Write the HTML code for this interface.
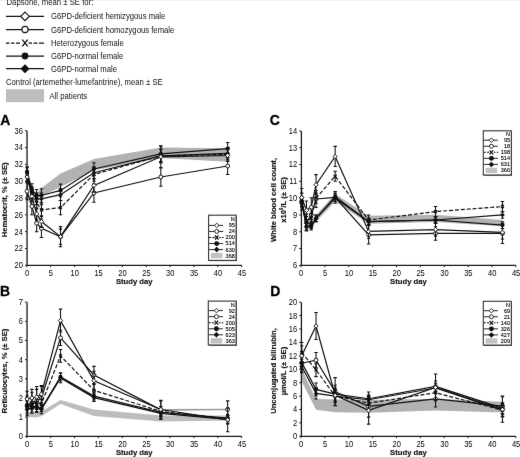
<!DOCTYPE html>
<html lang="en"><head><meta charset="utf-8"><title>Dapsone hematologic outcomes</title>
<style>html,body{margin:0;padding:0;background:#fff}body{width:520px;height:457px;overflow:hidden}svg{display:block}</style>
</head><body>
<svg width="520" height="457" viewBox="0 0 520 457" font-family='"Liberation Sans", sans-serif' fill="#111">
<defs><filter id="soft" x="0" y="0" width="100%" height="100%" filterUnits="objectBoundingBox" color-interpolation-filters="sRGB"><feConvolveMatrix order="3" kernelMatrix="0.0028 0.0470 0.0028 0.0470 0.8008 0.0470 0.0028 0.0470 0.0028" edgeMode="duplicate" preserveAlpha="true"/></filter></defs>
<g filter="url(#soft)">
<rect width="520" height="457" fill="#fff"/>
<g font-size="8.3">
<text transform="translate(6.5 5.3) scale(0.935 1)">Dapsone, mean ± SE for:</text>
<path d="M6 16.4H44" stroke="#111" stroke-width="1.25"/>
<path d="M20.72 16.4L25 12.12L29.28 16.4L25 20.68Z" fill="#fff" stroke="#111" stroke-width="1.15"/>
<text transform="translate(51 19.4) scale(0.93 1)">G6PD-deficient hemizygous male</text>
<path d="M6 29.5H44" stroke="#111" stroke-width="1.25"/>
<circle cx="25" cy="29.5" r="3.1" fill="#fff" stroke="#111" stroke-width="1.15"/>
<text transform="translate(51 32.5) scale(0.93 1)">G6PD-deficient homozygous female</text>
<path d="M6 43h3.5m1.5 0h3.5m1.5 0h4M28.5 43h3.5m1.5 0h4m1.5 0h5" stroke="#111" stroke-width="1.25"/>
<path d="M22.3 39.7L27.7 46.3M22.3 46.3L27.7 39.7" stroke="#111" stroke-width="1.3" fill="none"/>
<text transform="translate(51 46) scale(0.93 1)">Heterozygous female</text>
<path d="M6 56H44" stroke="#111" stroke-width="1.25"/>
<circle cx="25" cy="56" r="3.4" fill="#111"/>
<text transform="translate(51 59) scale(0.93 1)">G6PD-normal female</text>
<path d="M6 68.7H44" stroke="#111" stroke-width="1.25"/>
<path d="M20.5 68.7L25 64.2L29.5 68.7L25 73.2Z" fill="#111"/>
<text transform="translate(51 71.7) scale(0.93 1)">G6PD-normal male</text>
<text transform="translate(6 85.4) scale(0.93 1)">Control (artemether-lumefantrine), mean ± SE</text>
<rect x="6" y="89.2" width="38" height="13" fill="#bdbdbd"/>
<text transform="translate(49.5 98.6) scale(0.93 1)">All patients</text>
</g>
<g id="chartA">
<text transform="translate(0.3 125.3) scale(0.93 1)" font-size="15" font-weight="bold" fill="#000" stroke="#000" stroke-width="0.3">A</text>
<polygon points="27.1,169.4 31.88,187.91 36.65,193.79 41.43,187.91 60.53,173.6 93.95,158.88 160.8,147.52 227.65,148.37 227.65,161.83 160.8,158.04 93.95,170.24 60.53,187.06 41.43,196.32 36.65,198 31.88,193.79 27.1,178.65" fill="#b2b2b2"/>
<path d="M27.05 130.7V265.3H241.68" fill="none" stroke="#1a1a1a" stroke-width="1.3"/>
<path d="M25 265.3H26.8M25 248.48H26.8M25 231.65H26.8M25 214.82H26.8M25 198H26.8M25 181.18H26.8M25 164.35H26.8M25 147.52H26.8M25 130.7H26.8M26.8 265.3V267.1M50.67 265.3V267.1M74.55 265.3V267.1M98.42 265.3V267.1M122.3 265.3V267.1M146.18 265.3V267.1M170.05 265.3V267.1M193.93 265.3V267.1M217.8 265.3V267.1M241.68 265.3V267.1" stroke="#1a1a1a" stroke-width="1" fill="none"/>
<g font-size="8.2" fill="#000">
<text transform="translate(22.9 268.2) scale(0.92 1)" text-anchor="end">20</text>
<text transform="translate(22.9 251.38) scale(0.92 1)" text-anchor="end">22</text>
<text transform="translate(22.9 234.55) scale(0.92 1)" text-anchor="end">24</text>
<text transform="translate(22.9 217.72) scale(0.92 1)" text-anchor="end">26</text>
<text transform="translate(22.9 200.9) scale(0.92 1)" text-anchor="end">28</text>
<text transform="translate(22.9 184.08) scale(0.92 1)" text-anchor="end">30</text>
<text transform="translate(22.9 167.25) scale(0.92 1)" text-anchor="end">32</text>
<text transform="translate(22.9 150.42) scale(0.92 1)" text-anchor="end">34</text>
<text transform="translate(22.9 133.6) scale(0.92 1)" text-anchor="end">36</text>
<text transform="translate(27 275.6) scale(0.92 1)" text-anchor="middle">0</text>
<text transform="translate(50.88 275.6) scale(0.92 1)" text-anchor="middle">5</text>
<text transform="translate(74.75 275.6) scale(0.92 1)" text-anchor="middle">10</text>
<text transform="translate(98.62 275.6) scale(0.92 1)" text-anchor="middle">15</text>
<text transform="translate(122.5 275.6) scale(0.92 1)" text-anchor="middle">20</text>
<text transform="translate(146.38 275.6) scale(0.92 1)" text-anchor="middle">25</text>
<text transform="translate(170.25 275.6) scale(0.92 1)" text-anchor="middle">30</text>
<text transform="translate(194.12 275.6) scale(0.92 1)" text-anchor="middle">35</text>
<text transform="translate(218 275.6) scale(0.92 1)" text-anchor="middle">40</text>
<text transform="translate(241.88 275.6) scale(0.92 1)" text-anchor="middle">45</text>
</g>
<text transform="translate(134.24 283.6) scale(0.96 1)" text-anchor="middle" font-size="8" font-weight="bold" stroke="#111" stroke-width="0.15">Study day</text>
<text transform="translate(7.2 199.8) rotate(-90) scale(0.96 1)" text-anchor="middle" font-size="8" font-weight="bold" stroke="#111" stroke-width="0.15">Hematocrit, % (± SE)</text>
<polyline points="27.1,191.27 31.88,206.41 36.65,223.24 41.43,228.29 60.53,236.7 93.95,192.95 160.8,176.97 227.65,166.03" fill="none" stroke="#111" stroke-width="1.2"/>
<path d="M27.1 182.86V199.68M25.4 182.86h3.4M25.4 199.68h3.4M31.88 198V214.82M30.18 198h3.4M30.18 214.82h3.4M36.65 214.82V231.65M34.95 214.82h3.4M34.95 231.65h3.4M41.43 219.03V237.54M39.73 219.03h3.4M39.73 237.54h3.4M60.53 226.6V246.79M58.83 226.6h3.4M58.83 246.79h3.4M93.95 183.7V202.21M92.25 183.7h3.4M92.25 202.21h3.4M160.8 167.71V186.22M159.1 167.71h3.4M159.1 186.22h3.4M227.65 157.62V174.44M225.95 157.62h3.4M225.95 174.44h3.4" stroke="#111" stroke-width="1.05" fill="none"/>
<circle cx="27.1" cy="191.27" r="1.95" fill="#fff" stroke="#111" stroke-width="0.95"/>
<circle cx="31.88" cy="206.41" r="1.95" fill="#fff" stroke="#111" stroke-width="0.95"/>
<circle cx="36.65" cy="223.24" r="1.95" fill="#fff" stroke="#111" stroke-width="0.95"/>
<circle cx="41.43" cy="228.29" r="1.95" fill="#fff" stroke="#111" stroke-width="0.95"/>
<circle cx="60.53" cy="236.7" r="1.95" fill="#fff" stroke="#111" stroke-width="0.95"/>
<circle cx="93.95" cy="192.95" r="1.95" fill="#fff" stroke="#111" stroke-width="0.95"/>
<circle cx="160.8" cy="176.97" r="1.95" fill="#fff" stroke="#111" stroke-width="0.95"/>
<circle cx="227.65" cy="166.03" r="1.95" fill="#fff" stroke="#111" stroke-width="0.95"/>
<polyline points="27.1,176.13 31.88,192.95 36.65,203.05 41.43,209.78 60.53,207.67 93.95,174.44 160.8,155.94 227.65,154.25" fill="none" stroke="#111" stroke-width="1.2" stroke-dasharray="4 1.9"/>
<path d="M27.1 171.08V181.18M25.4 171.08h3.4M25.4 181.18h3.4M31.88 187.06V198.84M30.18 187.06h3.4M30.18 198.84h3.4M36.65 197.16V208.94M34.95 197.16h3.4M34.95 208.94h3.4M41.43 203.05V216.51M39.73 203.05h3.4M39.73 216.51h3.4M60.53 200.52V214.82M58.83 200.52h3.4M58.83 214.82h3.4M93.95 167.71V181.18M92.25 167.71h3.4M92.25 181.18h3.4M160.8 149.21V162.67M159.1 149.21h3.4M159.1 162.67h3.4M227.65 147.52V160.98M225.95 147.52h3.4M225.95 160.98h3.4" stroke="#111" stroke-width="1.05" fill="none"/>
<path d="M25.57 174.6L28.63 177.66M25.57 177.66L28.63 174.6" fill="none" stroke="#111" stroke-width="1.15"/>
<path d="M30.34 191.42L33.41 194.48M30.34 194.48L33.41 191.42" fill="none" stroke="#111" stroke-width="1.15"/>
<path d="M35.12 201.52L38.18 204.58M35.12 204.58L38.18 201.52" fill="none" stroke="#111" stroke-width="1.15"/>
<path d="M39.9 208.25L42.96 211.31M39.9 211.31L42.96 208.25" fill="none" stroke="#111" stroke-width="1.15"/>
<path d="M59 206.14L62.06 209.2M59 209.2L62.06 206.14" fill="none" stroke="#111" stroke-width="1.15"/>
<path d="M92.42 172.91L95.48 175.97M92.42 175.97L95.48 172.91" fill="none" stroke="#111" stroke-width="1.15"/>
<path d="M159.27 154.41L162.33 157.47M159.27 157.47L162.33 154.41" fill="none" stroke="#111" stroke-width="1.15"/>
<path d="M226.12 152.72L229.18 155.78M226.12 155.78L229.18 152.72" fill="none" stroke="#111" stroke-width="1.15"/>
<polyline points="27.1,171.92 31.88,189.59 36.65,195.48 41.43,195.48 60.53,190.43 93.95,168.98 160.8,153.83 227.65,148.53" fill="none" stroke="#111" stroke-width="1.2"/>
<path d="M27.1 166.87V176.97M25.4 166.87h3.4M25.4 176.97h3.4M31.88 183.7V195.48M30.18 183.7h3.4M30.18 195.48h3.4M36.65 189.59V201.36M34.95 189.59h3.4M34.95 201.36h3.4M41.43 188.75V202.21M39.73 188.75h3.4M39.73 202.21h3.4M60.53 184.12V196.74M58.83 184.12h3.4M58.83 196.74h3.4M93.95 162.67V175.29M92.25 162.67h3.4M92.25 175.29h3.4M160.8 146.26V161.41M159.1 146.26h3.4M159.1 161.41h3.4M227.65 142.48V154.59M225.95 142.48h3.4M225.95 154.59h3.4" stroke="#111" stroke-width="1.05" fill="none"/>
<circle cx="27.1" cy="171.92" r="2.1" fill="#111"/>
<circle cx="31.88" cy="189.59" r="2.1" fill="#111"/>
<circle cx="36.65" cy="195.48" r="2.1" fill="#111"/>
<circle cx="41.43" cy="195.48" r="2.1" fill="#111"/>
<circle cx="60.53" cy="190.43" r="2.1" fill="#111"/>
<circle cx="93.95" cy="168.98" r="2.1" fill="#111"/>
<circle cx="160.8" cy="153.83" r="2.1" fill="#111"/>
<circle cx="227.65" cy="148.53" r="2.1" fill="#111"/>
<polyline points="27.1,172.76 31.88,192.95 36.65,198.84 41.43,198.84 60.53,194.63 93.95,172.76 160.8,155.94 227.65,153.41" fill="none" stroke="#111" stroke-width="1.2"/>
<path d="M27.1 167.71V177.81M25.4 167.71h3.4M25.4 177.81h3.4M31.88 187.06V198.84M30.18 187.06h3.4M30.18 198.84h3.4M36.65 192.95V204.73M34.95 192.95h3.4M34.95 204.73h3.4M41.43 192.95V204.73M39.73 192.95h3.4M39.73 204.73h3.4M60.53 188.75V200.52M58.83 188.75h3.4M58.83 200.52h3.4M93.95 166.87V178.65M92.25 166.87h3.4M92.25 178.65h3.4M160.8 149.21V162.67M159.1 149.21h3.4M159.1 162.67h3.4M227.65 147.52V159.3M225.95 147.52h3.4M225.95 159.3h3.4" stroke="#111" stroke-width="1.05" fill="none"/>
<path d="M24.76 172.76L27.1 170.42L29.44 172.76L27.1 175.1Z" fill="#111"/>
<path d="M29.54 192.95L31.88 190.61L34.22 192.95L31.88 195.29Z" fill="#111"/>
<path d="M34.31 198.84L36.65 196.5L38.99 198.84L36.65 201.18Z" fill="#111"/>
<path d="M39.09 198.84L41.43 196.5L43.77 198.84L41.43 201.18Z" fill="#111"/>
<path d="M58.19 194.63L60.53 192.29L62.87 194.63L60.53 196.97Z" fill="#111"/>
<path d="M91.61 172.76L93.95 170.42L96.29 172.76L93.95 175.1Z" fill="#111"/>
<path d="M158.46 155.94L160.8 153.6L163.14 155.94L160.8 158.28Z" fill="#111"/>
<path d="M225.31 153.41L227.65 151.07L229.99 153.41L227.65 155.75Z" fill="#111"/>
<polyline points="27.1,176.97 31.88,196.32 36.65,213.98 41.43,221.56 60.53,236.7 93.95,185.38 160.8,156.78 227.65,155.52" fill="none" stroke="#111" stroke-width="1.2"/>
<path d="M27.1 172.76V181.18M25.4 172.76h3.4M25.4 181.18h3.4M31.88 191.27V201.37M30.18 191.27h3.4M30.18 201.37h3.4M36.65 208.09V219.87M34.95 208.09h3.4M34.95 219.87h3.4M41.43 215.67V227.44M39.73 215.67h3.4M39.73 227.44h3.4M60.53 229.13V244.27M58.83 229.13h3.4M58.83 244.27h3.4M93.95 178.65V192.11M92.25 178.65h3.4M92.25 192.11h3.4M160.8 145.84V167.72M159.1 145.84h3.4M159.1 167.72h3.4M227.65 149.63V161.41M225.95 149.63h3.4M225.95 161.41h3.4" stroke="#111" stroke-width="1.05" fill="none"/>
<path d="M24.92 176.97L27.1 174.78L29.28 176.97L27.1 179.15Z" fill="#fff" stroke="#111" stroke-width="0.95"/>
<path d="M29.69 196.32L31.88 194.13L34.06 196.32L31.88 198.5Z" fill="#fff" stroke="#111" stroke-width="0.95"/>
<path d="M34.47 213.98L36.65 211.8L38.83 213.98L36.65 216.17Z" fill="#fff" stroke="#111" stroke-width="0.95"/>
<path d="M39.24 221.56L41.43 219.37L43.61 221.56L41.43 223.74Z" fill="#fff" stroke="#111" stroke-width="0.95"/>
<path d="M58.34 236.7L60.53 234.51L62.71 236.7L60.53 238.88Z" fill="#fff" stroke="#111" stroke-width="0.95"/>
<path d="M91.77 185.38L93.95 183.2L96.13 185.38L93.95 187.57Z" fill="#fff" stroke="#111" stroke-width="0.95"/>
<path d="M158.62 156.78L160.8 154.59L162.98 156.78L160.8 158.96Z" fill="#fff" stroke="#111" stroke-width="0.95"/>
<path d="M225.47 155.52L227.65 153.33L229.83 155.52L227.65 157.7Z" fill="#fff" stroke="#111" stroke-width="0.95"/>
<rect x="209.3" y="215.9" width="27.5" height="45.2" fill="#444"/>
<rect x="208.6" y="215.2" width="27.5" height="45.2" fill="#fff" stroke="#333" stroke-width="1.1"/>
<g font-size="5.5" fill="#000" stroke="#000" stroke-width="0.12">
<text x="234.8" y="221.3" text-anchor="end">N</text>
<path d="M209.1 225.4H223.2" stroke="#111" stroke-width="0.9"/>
<path d="M214.46 225.4L216.7 223.16L218.94 225.4L216.7 227.64Z" fill="#fff" stroke="#111" stroke-width="0.9"/>
<text x="234.8" y="227.3" text-anchor="end">95</text>
<path d="M209.1 231.45H223.2" stroke="#111" stroke-width="0.9"/>
<circle cx="216.7" cy="231.45" r="2" fill="#fff" stroke="#111" stroke-width="0.9"/>
<text x="234.8" y="233.35" text-anchor="end">24</text>
<path d="M209.1 237.5h2m1.2 0h2.2M219.2 237.5h1.6m1.2 0h1.6" stroke="#111" stroke-width="1.1"/>
<path d="M214.9 235.5l3.6 4m0 -4l-3.6 4" stroke="#111" stroke-width="1.25" fill="none"/>
<text x="234.8" y="239.4" text-anchor="end">200</text>
<path d="M209.1 243.55H223.2" stroke="#111" stroke-width="0.9"/>
<circle cx="216.7" cy="243.55" r="2.4" fill="#111"/>
<text x="234.8" y="245.45" text-anchor="end">514</text>
<path d="M209.1 249.6H223.2" stroke="#111" stroke-width="0.9"/>
<path d="M213.97 249.6L216.7 246.87L219.43 249.6L216.7 252.33Z" fill="#111"/>
<text x="234.8" y="251.5" text-anchor="end">630</text>
<rect x="210.9" y="252.95" width="11.6" height="5.3" fill="#c2c2c2" stroke="none"/>
<text x="234.8" y="257.55" text-anchor="end">368</text>
</g></g>
<g id="chartB">
<text transform="translate(0.0 295.9) scale(0.93 1)" font-size="15" font-weight="bold" fill="#000" stroke="#000" stroke-width="0.3">B</text>
<polygon points="27.1,412.16 31.88,412.16 36.65,412.16 41.43,411.4 60.53,399.9 93.95,409.48 160.8,415.61 227.65,415.61 227.65,420.59 160.8,421.55 93.95,415.99 60.53,404.12 41.43,416.19 36.65,417.14 31.88,417.14 27.1,417.14" fill="#bdbdbd"/>
<path d="M27.05 302.2V436.3H241.68" fill="none" stroke="#1a1a1a" stroke-width="1.3"/>
<path d="M25 436.3H26.8M25 417.14H26.8M25 397.99H26.8M25 378.83H26.8M25 359.67H26.8M25 340.51H26.8M25 321.36H26.8M25 302.2H26.8M26.8 436.3V438.1M50.67 436.3V438.1M74.55 436.3V438.1M98.42 436.3V438.1M122.3 436.3V438.1M146.18 436.3V438.1M170.05 436.3V438.1M193.93 436.3V438.1M217.8 436.3V438.1M241.68 436.3V438.1" stroke="#1a1a1a" stroke-width="1" fill="none"/>
<g font-size="8.2" fill="#000">
<text transform="translate(22.9 439.2) scale(0.92 1)" text-anchor="end">0</text>
<text transform="translate(22.9 420.04) scale(0.92 1)" text-anchor="end">1</text>
<text transform="translate(22.9 400.89) scale(0.92 1)" text-anchor="end">2</text>
<text transform="translate(22.9 381.73) scale(0.92 1)" text-anchor="end">3</text>
<text transform="translate(22.9 362.57) scale(0.92 1)" text-anchor="end">4</text>
<text transform="translate(22.9 343.41) scale(0.92 1)" text-anchor="end">5</text>
<text transform="translate(22.9 324.26) scale(0.92 1)" text-anchor="end">6</text>
<text transform="translate(22.9 305.1) scale(0.92 1)" text-anchor="end">7</text>
<text transform="translate(27 446.6) scale(0.92 1)" text-anchor="middle">0</text>
<text transform="translate(50.88 446.6) scale(0.92 1)" text-anchor="middle">5</text>
<text transform="translate(74.75 446.6) scale(0.92 1)" text-anchor="middle">10</text>
<text transform="translate(98.62 446.6) scale(0.92 1)" text-anchor="middle">15</text>
<text transform="translate(122.5 446.6) scale(0.92 1)" text-anchor="middle">20</text>
<text transform="translate(146.38 446.6) scale(0.92 1)" text-anchor="middle">25</text>
<text transform="translate(170.25 446.6) scale(0.92 1)" text-anchor="middle">30</text>
<text transform="translate(194.12 446.6) scale(0.92 1)" text-anchor="middle">35</text>
<text transform="translate(218 446.6) scale(0.92 1)" text-anchor="middle">40</text>
<text transform="translate(241.88 446.6) scale(0.92 1)" text-anchor="middle">45</text>
</g>
<text transform="translate(134.24 454.6) scale(0.96 1)" text-anchor="middle" font-size="8" font-weight="bold" stroke="#111" stroke-width="0.15">Study day</text>
<text transform="translate(7.2 371.05) rotate(-90) scale(0.96 1)" text-anchor="middle" font-size="8" font-weight="bold" stroke="#111" stroke-width="0.15">Reticulocytes, % (± SE)</text>
<path d="M160.8 409.86L227.65 409.48" fill="none" stroke="#9a9a9a" stroke-width="1.6"/>
<polyline points="27.1,405.65 31.88,402.77 36.65,400.86 41.43,397.99 60.53,337.83 93.95,375 160.8,409.86" fill="none" stroke="#111" stroke-width="1.2"/>
<path d="M27.1 396.07V415.23M25.4 396.07h3.4M25.4 415.23h3.4M31.88 392.24V413.31M30.18 392.24h3.4M30.18 413.31h3.4M36.65 389.37V412.35M34.95 389.37h3.4M34.95 412.35h3.4M41.43 386.49V409.48M39.73 386.49h3.4M39.73 409.48h3.4M60.53 330.17V345.5M58.83 330.17h3.4M58.83 345.5h3.4M93.95 366.38V383.62M92.25 366.38h3.4M92.25 383.62h3.4M160.8 400.28V419.44M159.1 400.28h3.4M159.1 419.44h3.4M227.65 400.86V418.1M225.95 400.86h3.4M225.95 418.1h3.4" stroke="#111" stroke-width="1.05" fill="none"/>
<circle cx="27.1" cy="405.65" r="1.95" fill="#fff" stroke="#111" stroke-width="0.95"/>
<circle cx="31.88" cy="402.77" r="1.95" fill="#fff" stroke="#111" stroke-width="0.95"/>
<circle cx="36.65" cy="400.86" r="1.95" fill="#fff" stroke="#111" stroke-width="0.95"/>
<circle cx="41.43" cy="397.99" r="1.95" fill="#fff" stroke="#111" stroke-width="0.95"/>
<circle cx="60.53" cy="337.83" r="1.95" fill="#fff" stroke="#111" stroke-width="0.95"/>
<circle cx="93.95" cy="375" r="1.95" fill="#fff" stroke="#111" stroke-width="0.95"/>
<circle cx="160.8" cy="409.86" r="1.95" fill="#fff" stroke="#111" stroke-width="0.95"/>
<circle cx="227.65" cy="409.48" r="1.95" fill="#fff" stroke="#111" stroke-width="0.95"/>
<polyline points="27.1,405.65 31.88,403.73 36.65,402.77 41.43,403.73 60.53,355.84 93.95,390.32 160.8,411.4 227.65,419.06" fill="none" stroke="#111" stroke-width="1.2" stroke-dasharray="4 1.9"/>
<path d="M27.1 400.86V410.44M25.4 400.86h3.4M25.4 410.44h3.4M31.88 398.94V408.52M30.18 398.94h3.4M30.18 408.52h3.4M36.65 397.99V407.56M34.95 397.99h3.4M34.95 407.56h3.4M41.43 398.94V408.52M39.73 398.94h3.4M39.73 408.52h3.4M60.53 349.52V362.16M58.83 349.52h3.4M58.83 362.16h3.4M93.95 384.58V396.07M92.25 384.58h3.4M92.25 396.07h3.4M160.8 406.61V416.19M159.1 406.61h3.4M159.1 416.19h3.4M227.65 414.27V423.85M225.95 414.27h3.4M225.95 423.85h3.4" stroke="#111" stroke-width="1.05" fill="none"/>
<path d="M25.57 404.12L28.63 407.18M25.57 407.18L28.63 404.12" fill="none" stroke="#111" stroke-width="1.15"/>
<path d="M30.34 402.2L33.41 405.26M30.34 405.26L33.41 402.2" fill="none" stroke="#111" stroke-width="1.15"/>
<path d="M35.12 401.25L38.18 404.3M35.12 404.3L38.18 401.25" fill="none" stroke="#111" stroke-width="1.15"/>
<path d="M39.9 402.2L42.96 405.26M39.9 405.26L42.96 402.2" fill="none" stroke="#111" stroke-width="1.15"/>
<path d="M59 354.31L62.06 357.37M59 357.37L62.06 354.31" fill="none" stroke="#111" stroke-width="1.15"/>
<path d="M92.42 388.79L95.48 391.85M92.42 391.85L95.48 388.79" fill="none" stroke="#111" stroke-width="1.15"/>
<path d="M159.27 409.87L162.33 412.93M159.27 412.93L162.33 409.87" fill="none" stroke="#111" stroke-width="1.15"/>
<path d="M226.12 417.53L229.18 420.59M226.12 420.59L229.18 417.53" fill="none" stroke="#111" stroke-width="1.15"/>
<polyline points="27.1,406.61 31.88,406.61 36.65,406.61 41.43,408.52 60.53,376.91 93.95,396.07 160.8,412.35 227.65,418.1" fill="none" stroke="#111" stroke-width="1.2"/>
<path d="M27.1 403.73V409.48M25.4 403.73h3.4M25.4 409.48h3.4M31.88 403.73V409.48M30.18 403.73h3.4M30.18 409.48h3.4M36.65 403.73V409.48M34.95 403.73h3.4M34.95 409.48h3.4M41.43 405.65V411.4M39.73 405.65h3.4M39.73 411.4h3.4M60.53 373.08V380.74M58.83 373.08h3.4M58.83 380.74h3.4M93.95 392.24V399.9M92.25 392.24h3.4M92.25 399.9h3.4M160.8 409.48V415.23M159.1 409.48h3.4M159.1 415.23h3.4M227.65 415.23V420.97M225.95 415.23h3.4M225.95 420.97h3.4" stroke="#111" stroke-width="1.05" fill="none"/>
<circle cx="27.1" cy="406.61" r="2.1" fill="#111"/>
<circle cx="31.88" cy="406.61" r="2.1" fill="#111"/>
<circle cx="36.65" cy="406.61" r="2.1" fill="#111"/>
<circle cx="41.43" cy="408.52" r="2.1" fill="#111"/>
<circle cx="60.53" cy="376.91" r="2.1" fill="#111"/>
<circle cx="93.95" cy="396.07" r="2.1" fill="#111"/>
<circle cx="160.8" cy="412.35" r="2.1" fill="#111"/>
<circle cx="227.65" cy="418.1" r="2.1" fill="#111"/>
<polyline points="27.1,409.1 31.88,408.14 36.65,407.56 41.43,409.48 60.53,377.87 93.95,397.6 160.8,413.31 227.65,419.44" fill="none" stroke="#111" stroke-width="1.2"/>
<path d="M27.1 405.27V412.93M25.4 405.27h3.4M25.4 412.93h3.4M31.88 404.31V411.97M30.18 404.31h3.4M30.18 411.97h3.4M36.65 403.73V411.4M34.95 403.73h3.4M34.95 411.4h3.4M41.43 405.27V413.69M39.73 405.27h3.4M39.73 413.69h3.4M60.53 373.08V382.66M58.83 373.08h3.4M58.83 382.66h3.4M93.95 393.77V401.43M92.25 393.77h3.4M92.25 401.43h3.4M160.8 410.44V416.19M159.1 410.44h3.4M159.1 416.19h3.4M227.65 415.61V423.27M225.95 415.61h3.4M225.95 423.27h3.4" stroke="#111" stroke-width="1.05" fill="none"/>
<path d="M24.76 409.1L27.1 406.76L29.44 409.1L27.1 411.44Z" fill="#111"/>
<path d="M29.54 408.14L31.88 405.8L34.22 408.14L31.88 410.48Z" fill="#111"/>
<path d="M34.31 407.56L36.65 405.22L38.99 407.56L36.65 409.9Z" fill="#111"/>
<path d="M39.09 409.48L41.43 407.14L43.77 409.48L41.43 411.82Z" fill="#111"/>
<path d="M58.19 377.87L60.53 375.53L62.87 377.87L60.53 380.21Z" fill="#111"/>
<path d="M91.61 397.6L93.95 395.26L96.29 397.6L93.95 399.94Z" fill="#111"/>
<path d="M158.46 413.31L160.8 410.97L163.14 413.31L160.8 415.65Z" fill="#111"/>
<path d="M225.31 419.44L227.65 417.1L229.99 419.44L227.65 421.78Z" fill="#111"/>
<polyline points="27.1,398.94 31.88,397.99 36.65,397.03 41.43,394.15 60.53,320.59 93.95,380.74 160.8,409.48 227.65,419.82" fill="none" stroke="#111" stroke-width="1.2"/>
<path d="M27.1 391.28V406.61M25.4 391.28h3.4M25.4 406.61h3.4M31.88 389.37V406.61M30.18 389.37h3.4M30.18 406.61h3.4M36.65 386.49V407.56M34.95 386.49h3.4M34.95 407.56h3.4M41.43 385.53V402.77M39.73 385.53h3.4M39.73 402.77h3.4M60.53 309.1V332.09M58.83 309.1h3.4M58.83 332.09h3.4M93.95 371.17V390.32M92.25 371.17h3.4M92.25 390.32h3.4M160.8 400.86V418.1M159.1 400.86h3.4M159.1 418.1h3.4M227.65 407.95V431.7M225.95 407.95h3.4M225.95 431.7h3.4" stroke="#111" stroke-width="1.05" fill="none"/>
<path d="M24.92 398.94L27.1 396.76L29.28 398.94L27.1 401.13Z" fill="#fff" stroke="#111" stroke-width="0.95"/>
<path d="M29.69 397.99L31.88 395.8L34.06 397.99L31.88 400.17Z" fill="#fff" stroke="#111" stroke-width="0.95"/>
<path d="M34.47 397.03L36.65 394.84L38.83 397.03L36.65 399.21Z" fill="#fff" stroke="#111" stroke-width="0.95"/>
<path d="M39.24 394.15L41.43 391.97L43.61 394.15L41.43 396.34Z" fill="#fff" stroke="#111" stroke-width="0.95"/>
<path d="M58.34 320.59L60.53 318.41L62.71 320.59L60.53 322.77Z" fill="#fff" stroke="#111" stroke-width="0.95"/>
<path d="M91.77 380.74L93.95 378.56L96.13 380.74L93.95 382.93Z" fill="#fff" stroke="#111" stroke-width="0.95"/>
<path d="M158.62 409.48L160.8 407.3L162.98 409.48L160.8 411.66Z" fill="#fff" stroke="#111" stroke-width="0.95"/>
<path d="M225.47 419.82L227.65 417.64L229.83 419.82L227.65 422.01Z" fill="#fff" stroke="#111" stroke-width="0.95"/>
<rect x="209" y="301.8" width="27.8" height="43.9" fill="#444"/>
<rect x="208.3" y="301.1" width="27.8" height="43.9" fill="#fff" stroke="#333" stroke-width="1.1"/>
<g font-size="5.5" fill="#000" stroke="#000" stroke-width="0.12">
<text x="234.8" y="306.6" text-anchor="end">N</text>
<path d="M208.8 310.6H222.9" stroke="#111" stroke-width="0.9"/>
<path d="M214.16 310.6L216.4 308.36L218.64 310.6L216.4 312.84Z" fill="#fff" stroke="#111" stroke-width="0.9"/>
<text x="234.8" y="312.5" text-anchor="end">92</text>
<path d="M208.8 316.65H222.9" stroke="#111" stroke-width="0.9"/>
<circle cx="216.4" cy="316.65" r="2" fill="#fff" stroke="#111" stroke-width="0.9"/>
<text x="234.8" y="318.55" text-anchor="end">24</text>
<path d="M208.8 322.7h2m1.2 0h2.2M218.9 322.7h1.6m1.2 0h1.6" stroke="#111" stroke-width="1.1"/>
<path d="M214.6 320.7l3.6 4m0 -4l-3.6 4" stroke="#111" stroke-width="1.25" fill="none"/>
<text x="234.8" y="324.6" text-anchor="end">200</text>
<path d="M208.8 328.75H222.9" stroke="#111" stroke-width="0.9"/>
<circle cx="216.4" cy="328.75" r="2.4" fill="#111"/>
<text x="234.8" y="330.65" text-anchor="end">505</text>
<path d="M208.8 334.8H222.9" stroke="#111" stroke-width="0.9"/>
<path d="M213.67 334.8L216.4 332.07L219.13 334.8L216.4 337.53Z" fill="#111"/>
<text x="234.8" y="336.7" text-anchor="end">623</text>
<rect x="210.6" y="338.15" width="11.6" height="5.3" fill="#c2c2c2" stroke="none"/>
<text x="234.8" y="342.75" text-anchor="end">363</text>
</g></g>
<g id="chartC">
<text transform="translate(269.8 125.2) scale(0.93 1)" font-size="15" font-weight="bold" fill="#000" stroke="#000" stroke-width="0.3">C</text>
<polygon points="301.7,198.15 306.48,221.69 311.26,221.69 316.04,214.96 335.16,193.95 368.62,215.8 435.54,214.63 502.46,220.01 502.46,226.23 435.54,222.02 368.62,223.7 335.16,201.51 316.04,221.69 311.26,228.41 306.48,228.41 301.7,206.56" fill="#b2b2b2"/>
<path d="M301.4 130.9V265.4H515.88" fill="none" stroke="#1a1a1a" stroke-width="1.3"/>
<path d="M299.2 265.4H301M299.2 248.59H301M299.2 231.77H301M299.2 214.96H301M299.2 198.15H301M299.2 181.34H301M299.2 164.53H301M299.2 147.71H301M299.2 130.9H301M301 265.4V267.2M324.88 265.4V267.2M348.75 265.4V267.2M372.62 265.4V267.2M396.5 265.4V267.2M420.38 265.4V267.2M444.25 265.4V267.2M468.12 265.4V267.2M492 265.4V267.2M515.88 265.4V267.2" stroke="#1a1a1a" stroke-width="1" fill="none"/>
<g font-size="8.2" fill="#000">
<text transform="translate(297.1 268.3) scale(0.92 1)" text-anchor="end">6</text>
<text transform="translate(297.1 251.49) scale(0.92 1)" text-anchor="end">7</text>
<text transform="translate(297.1 234.67) scale(0.92 1)" text-anchor="end">8</text>
<text transform="translate(297.1 217.86) scale(0.92 1)" text-anchor="end">9</text>
<text transform="translate(297.1 201.05) scale(0.92 1)" text-anchor="end">10</text>
<text transform="translate(297.1 184.24) scale(0.92 1)" text-anchor="end">11</text>
<text transform="translate(297.1 167.43) scale(0.92 1)" text-anchor="end">12</text>
<text transform="translate(297.1 150.61) scale(0.92 1)" text-anchor="end">13</text>
<text transform="translate(297.1 133.8) scale(0.92 1)" text-anchor="end">14</text>
<text transform="translate(301.2 275.7) scale(0.92 1)" text-anchor="middle">0</text>
<text transform="translate(325.07 275.7) scale(0.92 1)" text-anchor="middle">5</text>
<text transform="translate(348.95 275.7) scale(0.92 1)" text-anchor="middle">10</text>
<text transform="translate(372.82 275.7) scale(0.92 1)" text-anchor="middle">15</text>
<text transform="translate(396.7 275.7) scale(0.92 1)" text-anchor="middle">20</text>
<text transform="translate(420.57 275.7) scale(0.92 1)" text-anchor="middle">25</text>
<text transform="translate(444.45 275.7) scale(0.92 1)" text-anchor="middle">30</text>
<text transform="translate(468.32 275.7) scale(0.92 1)" text-anchor="middle">35</text>
<text transform="translate(492.2 275.7) scale(0.92 1)" text-anchor="middle">40</text>
<text transform="translate(516.08 275.7) scale(0.92 1)" text-anchor="middle">45</text>
</g>
<text transform="translate(408.44 283.7) scale(0.96 1)" text-anchor="middle" font-size="8" font-weight="bold" stroke="#111" stroke-width="0.15">Study day</text>
<text transform="translate(275.9 199.95) rotate(-90) scale(0.96 1)" text-anchor="middle" font-size="8" font-weight="bold" stroke="#111" stroke-width="0.15">White blood cell count,</text>
<text transform="translate(285.8 199.95) rotate(-90) scale(0.96 1)" text-anchor="middle" font-size="8" font-weight="bold" stroke="#111" stroke-width="0.15">x10<tspan dy="-2.6" font-size="4.6">9</tspan><tspan dy="2.6">/L (± SE)</tspan></text>
<polyline points="301.7,201.51 306.48,222.53 311.26,214.96 316.04,198.99 335.16,197.31 368.62,234.8 435.54,233.46 502.46,233.46" fill="none" stroke="#111" stroke-width="1.2"/>
<path d="M301.7 193.11V209.92M300 193.11h3.4M300 209.92h3.4M306.48 214.12V230.93M304.78 214.12h3.4M304.78 230.93h3.4M311.26 206.56V223.37M309.56 206.56h3.4M309.56 223.37h3.4M316.04 190.58V207.4M314.34 190.58h3.4M314.34 207.4h3.4M335.16 191.42V203.19M333.46 191.42h3.4M333.46 203.19h3.4M368.62 225.55V244.05M366.92 225.55h3.4M366.92 244.05h3.4M435.54 226.73V240.18M433.84 226.73h3.4M433.84 240.18h3.4M502.46 223.37V243.54M500.76 223.37h3.4M500.76 243.54h3.4" stroke="#111" stroke-width="1.05" fill="none"/>
<circle cx="301.7" cy="201.51" r="1.95" fill="#fff" stroke="#111" stroke-width="0.95"/>
<circle cx="306.48" cy="222.53" r="1.95" fill="#fff" stroke="#111" stroke-width="0.95"/>
<circle cx="311.26" cy="214.96" r="1.95" fill="#fff" stroke="#111" stroke-width="0.95"/>
<circle cx="316.04" cy="198.99" r="1.95" fill="#fff" stroke="#111" stroke-width="0.95"/>
<circle cx="335.16" cy="197.31" r="1.95" fill="#fff" stroke="#111" stroke-width="0.95"/>
<circle cx="368.62" cy="234.8" r="1.95" fill="#fff" stroke="#111" stroke-width="0.95"/>
<circle cx="435.54" cy="233.46" r="1.95" fill="#fff" stroke="#111" stroke-width="0.95"/>
<circle cx="502.46" cy="233.46" r="1.95" fill="#fff" stroke="#111" stroke-width="0.95"/>
<polyline points="301.7,201.51 306.48,221.69 311.26,218.32 316.04,198.15 335.16,176.29 368.62,220.01 435.54,211.6 502.46,206.56" fill="none" stroke="#111" stroke-width="1.2" stroke-dasharray="4 1.9"/>
<path d="M301.7 196.47V206.56M300 196.47h3.4M300 206.56h3.4M306.48 216.64V226.73M304.78 216.64h3.4M304.78 226.73h3.4M311.26 213.28V223.37M309.56 213.28h3.4M309.56 223.37h3.4M316.04 193.11V203.19M314.34 193.11h3.4M314.34 203.19h3.4M335.16 171.25V181.34M333.46 171.25h3.4M333.46 181.34h3.4M368.62 214.96V225.05M366.92 214.96h3.4M366.92 225.05h3.4M435.54 206.56V216.64M433.84 206.56h3.4M433.84 216.64h3.4M502.46 201.51V211.6M500.76 201.51h3.4M500.76 211.6h3.4" stroke="#111" stroke-width="1.05" fill="none"/>
<path d="M300.17 199.98L303.23 203.04M300.17 203.04L303.23 199.98" fill="none" stroke="#111" stroke-width="1.15"/>
<path d="M304.95 220.16L308.01 223.22M304.95 223.22L308.01 220.16" fill="none" stroke="#111" stroke-width="1.15"/>
<path d="M309.73 216.79L312.79 219.85M309.73 219.85L312.79 216.79" fill="none" stroke="#111" stroke-width="1.15"/>
<path d="M314.51 196.62L317.57 199.68M314.51 199.68L317.57 196.62" fill="none" stroke="#111" stroke-width="1.15"/>
<path d="M333.63 174.76L336.69 177.82M333.63 177.82L336.69 174.76" fill="none" stroke="#111" stroke-width="1.15"/>
<path d="M367.09 218.48L370.15 221.54M367.09 221.54L370.15 218.48" fill="none" stroke="#111" stroke-width="1.15"/>
<path d="M434.01 210.07L437.07 213.13M434.01 213.13L437.07 210.07" fill="none" stroke="#111" stroke-width="1.15"/>
<path d="M500.93 205.03L503.99 208.09M500.93 208.09L503.99 205.03" fill="none" stroke="#111" stroke-width="1.15"/>
<polyline points="301.7,203.19 306.48,226.73 311.26,225.05 316.04,218.32 335.16,198.15 368.62,221.69 435.54,220.01 502.46,225.05" fill="none" stroke="#111" stroke-width="1.2"/>
<path d="M301.7 199.83V206.56M300 199.83h3.4M300 206.56h3.4M306.48 223.37V230.09M304.78 223.37h3.4M304.78 230.09h3.4M311.26 221.69V228.41M309.56 221.69h3.4M309.56 228.41h3.4M316.04 214.96V221.69M314.34 214.96h3.4M314.34 221.69h3.4M335.16 194.79V201.51M333.46 194.79h3.4M333.46 201.51h3.4M368.62 218.32V225.05M366.92 218.32h3.4M366.92 225.05h3.4M435.54 216.64V223.37M433.84 216.64h3.4M433.84 223.37h3.4M502.46 221.69V228.41M500.76 221.69h3.4M500.76 228.41h3.4" stroke="#111" stroke-width="1.05" fill="none"/>
<circle cx="301.7" cy="203.19" r="2.1" fill="#111"/>
<circle cx="306.48" cy="226.73" r="2.1" fill="#111"/>
<circle cx="311.26" cy="225.05" r="2.1" fill="#111"/>
<circle cx="316.04" cy="218.32" r="2.1" fill="#111"/>
<circle cx="335.16" cy="198.15" r="2.1" fill="#111"/>
<circle cx="368.62" cy="221.69" r="2.1" fill="#111"/>
<circle cx="435.54" cy="220.01" r="2.1" fill="#111"/>
<circle cx="502.46" cy="225.05" r="2.1" fill="#111"/>
<polyline points="301.7,201.51 306.48,226.73 311.26,226.73 316.04,218.32 335.16,196.47 368.62,221.69 435.54,220.01 502.46,214.96" fill="none" stroke="#111" stroke-width="1.2"/>
<path d="M301.7 198.15V204.87M300 198.15h3.4M300 204.87h3.4M306.48 223.37V230.09M304.78 223.37h3.4M304.78 230.09h3.4M311.26 223.37V230.09M309.56 223.37h3.4M309.56 230.09h3.4M316.04 214.96V221.69M314.34 214.96h3.4M314.34 221.69h3.4M335.16 193.11V199.83M333.46 193.11h3.4M333.46 199.83h3.4M368.62 218.32V225.05M366.92 218.32h3.4M366.92 225.05h3.4M435.54 216.64V223.37M433.84 216.64h3.4M433.84 223.37h3.4M502.46 211.6V218.32M500.76 211.6h3.4M500.76 218.32h3.4" stroke="#111" stroke-width="1.05" fill="none"/>
<path d="M299.36 201.51L301.7 199.17L304.04 201.51L301.7 203.85Z" fill="#111"/>
<path d="M304.14 226.73L306.48 224.39L308.82 226.73L306.48 229.07Z" fill="#111"/>
<path d="M308.92 226.73L311.26 224.39L313.6 226.73L311.26 229.07Z" fill="#111"/>
<path d="M313.7 218.32L316.04 215.98L318.38 218.32L316.04 220.66Z" fill="#111"/>
<path d="M332.82 196.47L335.16 194.13L337.5 196.47L335.16 198.81Z" fill="#111"/>
<path d="M366.28 221.69L368.62 219.35L370.96 221.69L368.62 224.03Z" fill="#111"/>
<path d="M433.2 220.01L435.54 217.67L437.88 220.01L435.54 222.35Z" fill="#111"/>
<path d="M500.12 214.96L502.46 212.62L504.8 214.96L502.46 217.3Z" fill="#111"/>
<polyline points="301.7,197.65 306.48,210.25 311.26,207.23 316.04,184.7 335.16,156.45 368.62,231.44 435.54,229.59 502.46,232.28" fill="none" stroke="#111" stroke-width="1.2"/>
<path d="M301.7 188.4V206.89M300 188.4h3.4M300 206.89h3.4M306.48 201.01V219.5M304.78 201.01h3.4M304.78 219.5h3.4M311.26 197.65V216.81M309.56 197.65h3.4M309.56 216.81h3.4M316.04 174.61V194.79M314.34 174.61h3.4M314.34 194.79h3.4M335.16 146.37V166.54M333.46 146.37h3.4M333.46 166.54h3.4M368.62 224.71V238.16M366.92 224.71h3.4M366.92 238.16h3.4M435.54 222.86V236.31M433.84 222.86h3.4M433.84 236.31h3.4M502.46 225.55V239M500.76 225.55h3.4M500.76 239h3.4" stroke="#111" stroke-width="1.05" fill="none"/>
<path d="M299.52 197.65L301.7 195.46L303.88 197.65L301.7 199.83Z" fill="#fff" stroke="#111" stroke-width="0.95"/>
<path d="M304.3 210.25L306.48 208.07L308.66 210.25L306.48 212.44Z" fill="#fff" stroke="#111" stroke-width="0.95"/>
<path d="M309.08 207.23L311.26 205.04L313.44 207.23L311.26 209.41Z" fill="#fff" stroke="#111" stroke-width="0.95"/>
<path d="M313.86 184.7L316.04 182.52L318.22 184.7L316.04 186.88Z" fill="#fff" stroke="#111" stroke-width="0.95"/>
<path d="M332.98 156.45L335.16 154.27L337.34 156.45L335.16 158.64Z" fill="#fff" stroke="#111" stroke-width="0.95"/>
<path d="M366.44 231.44L368.62 229.25L370.8 231.44L368.62 233.62Z" fill="#fff" stroke="#111" stroke-width="0.95"/>
<path d="M433.36 229.59L435.54 227.41L437.72 229.59L435.54 231.77Z" fill="#fff" stroke="#111" stroke-width="0.95"/>
<path d="M500.28 232.28L502.46 230.1L504.64 232.28L502.46 234.46Z" fill="#fff" stroke="#111" stroke-width="0.95"/>
<rect x="484" y="131.5" width="28" height="44.2" fill="#444"/>
<rect x="483.3" y="130.8" width="28" height="44.2" fill="#fff" stroke="#333" stroke-width="1.1"/>
<g font-size="5.5" fill="#000" stroke="#000" stroke-width="0.12">
<text x="510" y="135.7" text-anchor="end">N</text>
<path d="M483.8 140.2H497.9" stroke="#111" stroke-width="0.9"/>
<path d="M489.16 140.2L491.4 137.96L493.64 140.2L491.4 142.44Z" fill="#fff" stroke="#111" stroke-width="0.9"/>
<text x="510" y="142.1" text-anchor="end">95</text>
<path d="M483.8 146.25H497.9" stroke="#111" stroke-width="0.9"/>
<circle cx="491.4" cy="146.25" r="2" fill="#fff" stroke="#111" stroke-width="0.9"/>
<text x="510" y="148.15" text-anchor="end">18</text>
<path d="M483.8 152.3h2m1.2 0h2.2M493.9 152.3h1.6m1.2 0h1.6" stroke="#111" stroke-width="1.1"/>
<path d="M489.6 150.3l3.6 4m0 -4l-3.6 4" stroke="#111" stroke-width="1.25" fill="none"/>
<text x="510" y="154.2" text-anchor="end">198</text>
<path d="M483.8 158.35H497.9" stroke="#111" stroke-width="0.9"/>
<circle cx="491.4" cy="158.35" r="2.4" fill="#111"/>
<text x="510" y="160.25" text-anchor="end">514</text>
<path d="M483.8 164.4H497.9" stroke="#111" stroke-width="0.9"/>
<path d="M488.67 164.4L491.4 161.67L494.13 164.4L491.4 167.13Z" fill="#111"/>
<text x="510" y="166.3" text-anchor="end">631</text>
<rect x="485.6" y="167.75" width="11.6" height="5.3" fill="#c2c2c2" stroke="none"/>
<text x="510" y="172.35" text-anchor="end">366</text>
</g></g>
<g id="chartD">
<text transform="translate(270.3 295.9) scale(0.93 1)" font-size="15" font-weight="bold" fill="#000" stroke="#000" stroke-width="0.3">D</text>
<polygon points="301.7,369.25 316.04,399.09 335.16,399.42 368.62,400.09 435.54,398.75 502.46,401.77 502.46,412.5 435.54,410.49 368.62,412.83 335.16,412.16 316.04,409.68 301.7,381.32" fill="#b2b2b2"/>
<path d="M301.4 302.2V436.3H515.88" fill="none" stroke="#1a1a1a" stroke-width="1.3"/>
<path d="M299.2 436.3H301M299.2 422.89H301M299.2 409.48H301M299.2 396.07H301M299.2 382.66H301M299.2 369.25H301M299.2 355.84H301M299.2 342.43H301M299.2 329.02H301M299.2 315.61H301M299.2 302.2H301M301 436.3V438.1M324.88 436.3V438.1M348.75 436.3V438.1M372.62 436.3V438.1M396.5 436.3V438.1M420.38 436.3V438.1M444.25 436.3V438.1M468.12 436.3V438.1M492 436.3V438.1M515.88 436.3V438.1" stroke="#1a1a1a" stroke-width="1" fill="none"/>
<g font-size="8.2" fill="#000">
<text transform="translate(297.1 439.2) scale(0.92 1)" text-anchor="end">0</text>
<text transform="translate(297.1 425.79) scale(0.92 1)" text-anchor="end">2</text>
<text transform="translate(297.1 412.38) scale(0.92 1)" text-anchor="end">4</text>
<text transform="translate(297.1 398.97) scale(0.92 1)" text-anchor="end">6</text>
<text transform="translate(297.1 385.56) scale(0.92 1)" text-anchor="end">8</text>
<text transform="translate(297.1 372.15) scale(0.92 1)" text-anchor="end">10</text>
<text transform="translate(297.1 358.74) scale(0.92 1)" text-anchor="end">12</text>
<text transform="translate(297.1 345.33) scale(0.92 1)" text-anchor="end">14</text>
<text transform="translate(297.1 331.92) scale(0.92 1)" text-anchor="end">16</text>
<text transform="translate(297.1 318.51) scale(0.92 1)" text-anchor="end">18</text>
<text transform="translate(297.1 305.1) scale(0.92 1)" text-anchor="end">20</text>
<text transform="translate(301.2 446.6) scale(0.92 1)" text-anchor="middle">0</text>
<text transform="translate(325.07 446.6) scale(0.92 1)" text-anchor="middle">5</text>
<text transform="translate(348.95 446.6) scale(0.92 1)" text-anchor="middle">10</text>
<text transform="translate(372.82 446.6) scale(0.92 1)" text-anchor="middle">15</text>
<text transform="translate(396.7 446.6) scale(0.92 1)" text-anchor="middle">20</text>
<text transform="translate(420.57 446.6) scale(0.92 1)" text-anchor="middle">25</text>
<text transform="translate(444.45 446.6) scale(0.92 1)" text-anchor="middle">30</text>
<text transform="translate(468.32 446.6) scale(0.92 1)" text-anchor="middle">35</text>
<text transform="translate(492.2 446.6) scale(0.92 1)" text-anchor="middle">40</text>
<text transform="translate(516.08 446.6) scale(0.92 1)" text-anchor="middle">45</text>
</g>
<text transform="translate(408.44 454.6) scale(0.96 1)" text-anchor="middle" font-size="8" font-weight="bold" stroke="#111" stroke-width="0.15">Study day</text>
<text transform="translate(276.0 371.05) rotate(-90) scale(0.96 1)" text-anchor="middle" font-size="8" font-weight="bold" stroke="#111" stroke-width="0.15">Unconjugated bilirubin,</text>
<text transform="translate(285.8 371.05) rotate(-90) scale(0.96 1)" text-anchor="middle" font-size="8" font-weight="bold" stroke="#111" stroke-width="0.15">µmol/L (± SE)</text>
<polyline points="301.7,363.22 316.04,360.13 335.16,391.71 368.62,406.4 435.54,398.95 502.46,406.13" fill="none" stroke="#111" stroke-width="1.2"/>
<path d="M301.7 353.83V372.6M300 353.83h3.4M300 372.6h3.4M316.04 352.42V367.84M314.34 352.42h3.4M314.34 367.84h3.4M335.16 377.63V405.79M333.46 377.63h3.4M333.46 405.79h3.4M368.62 395.67V417.12M366.92 395.67h3.4M366.92 417.12h3.4M435.54 390.91V407M433.84 390.91h3.4M433.84 407h3.4M502.46 396.07V416.19M500.76 396.07h3.4M500.76 416.19h3.4" stroke="#111" stroke-width="1.05" fill="none"/>
<circle cx="301.7" cy="363.22" r="1.95" fill="#fff" stroke="#111" stroke-width="0.95"/>
<circle cx="316.04" cy="360.13" r="1.95" fill="#fff" stroke="#111" stroke-width="0.95"/>
<circle cx="335.16" cy="391.71" r="1.95" fill="#fff" stroke="#111" stroke-width="0.95"/>
<circle cx="368.62" cy="406.4" r="1.95" fill="#fff" stroke="#111" stroke-width="0.95"/>
<circle cx="435.54" cy="398.95" r="1.95" fill="#fff" stroke="#111" stroke-width="0.95"/>
<circle cx="502.46" cy="406.13" r="1.95" fill="#fff" stroke="#111" stroke-width="0.95"/>
<polyline points="301.7,352.49 316.04,369.92 335.16,396.07 368.62,403.11 435.54,392.72 502.46,410.15" fill="none" stroke="#111" stroke-width="1.2" stroke-dasharray="4 1.9"/>
<path d="M301.7 345.78V359.19M300 345.78h3.4M300 359.19h3.4M316.04 363.22V376.63M314.34 363.22h3.4M314.34 376.63h3.4M335.16 389.37V402.77M333.46 389.37h3.4M333.46 402.77h3.4M368.62 396.41V409.82M366.92 396.41h3.4M366.92 409.82h3.4M435.54 386.01V399.42M433.84 386.01h3.4M433.84 399.42h3.4M502.46 403.45V416.86M500.76 403.45h3.4M500.76 416.86h3.4" stroke="#111" stroke-width="1.05" fill="none"/>
<path d="M300.17 350.96L303.23 354.02M300.17 354.02L303.23 350.96" fill="none" stroke="#111" stroke-width="1.15"/>
<path d="M314.51 368.39L317.57 371.45M314.51 371.45L317.57 368.39" fill="none" stroke="#111" stroke-width="1.15"/>
<path d="M333.63 394.54L336.69 397.6M333.63 397.6L336.69 394.54" fill="none" stroke="#111" stroke-width="1.15"/>
<path d="M367.09 401.58L370.15 404.64M367.09 404.64L370.15 401.58" fill="none" stroke="#111" stroke-width="1.15"/>
<path d="M434.01 391.19L437.07 394.25M434.01 394.25L437.07 391.19" fill="none" stroke="#111" stroke-width="1.15"/>
<path d="M500.93 408.62L503.99 411.68M500.93 411.68L503.99 408.62" fill="none" stroke="#111" stroke-width="1.15"/>
<polyline points="301.7,362.54 316.04,389.37 335.16,394.06 368.62,398.75 435.54,386.35 502.46,408.14" fill="none" stroke="#111" stroke-width="1.2"/>
<path d="M301.7 357.18V367.91M300 357.18h3.4M300 367.91h3.4M316.04 383V395.73M314.34 383h3.4M314.34 395.73h3.4M335.16 388.02V400.09M333.46 388.02h3.4M333.46 400.09h3.4M368.62 392.05V405.46M366.92 392.05h3.4M366.92 405.46h3.4M435.54 380.98V391.71M433.84 380.98h3.4M433.84 391.71h3.4M502.46 402.77V413.5M500.76 402.77h3.4M500.76 413.5h3.4" stroke="#111" stroke-width="1.05" fill="none"/>
<circle cx="301.7" cy="362.54" r="2.1" fill="#111"/>
<circle cx="316.04" cy="389.37" r="2.1" fill="#111"/>
<circle cx="335.16" cy="394.06" r="2.1" fill="#111"/>
<circle cx="368.62" cy="398.75" r="2.1" fill="#111"/>
<circle cx="435.54" cy="386.35" r="2.1" fill="#111"/>
<circle cx="502.46" cy="408.14" r="2.1" fill="#111"/>
<polyline points="301.7,366.57 316.04,393.39 335.16,396.07 368.62,399.76 435.54,388.02 502.46,410.15" fill="none" stroke="#111" stroke-width="1.2"/>
<path d="M301.7 361.87V371.26M300 361.87h3.4M300 371.26h3.4M316.04 387.69V399.09M314.34 387.69h3.4M314.34 399.09h3.4M335.16 390.71V401.43M333.46 390.71h3.4M333.46 401.43h3.4M368.62 395.06V404.45M366.92 395.06h3.4M366.92 404.45h3.4M435.54 383.33V392.72M433.84 383.33h3.4M433.84 392.72h3.4M502.46 405.46V414.84M500.76 405.46h3.4M500.76 414.84h3.4" stroke="#111" stroke-width="1.05" fill="none"/>
<path d="M299.36 366.57L301.7 364.23L304.04 366.57L301.7 368.91Z" fill="#111"/>
<path d="M313.7 393.39L316.04 391.05L318.38 393.39L316.04 395.73Z" fill="#111"/>
<path d="M332.82 396.07L335.16 393.73L337.5 396.07L335.16 398.41Z" fill="#111"/>
<path d="M366.28 399.76L368.62 397.42L370.96 399.76L368.62 402.1Z" fill="#111"/>
<path d="M433.2 388.02L435.54 385.68L437.88 388.02L435.54 390.36Z" fill="#111"/>
<path d="M500.12 410.15L502.46 407.81L504.8 410.15L502.46 412.49Z" fill="#111"/>
<polyline points="301.7,355.84 316.04,326 335.16,395.4 368.62,410.35 435.54,387.35 502.46,409.48" fill="none" stroke="#111" stroke-width="1.2"/>
<path d="M301.7 342.43V369.25M300 342.43h3.4M300 369.25h3.4M316.04 312.59V339.41M314.34 312.59h3.4M314.34 339.41h3.4M335.16 385.34V405.46M333.46 385.34h3.4M333.46 405.46h3.4M368.62 396.61V424.1M366.92 396.61h3.4M366.92 424.1h3.4M435.54 373.94V400.76M433.84 373.94h3.4M433.84 400.76h3.4M502.46 396.74V422.22M500.76 396.74h3.4M500.76 422.22h3.4" stroke="#111" stroke-width="1.05" fill="none"/>
<path d="M299.52 355.84L301.7 353.66L303.88 355.84L301.7 358.02Z" fill="#fff" stroke="#111" stroke-width="0.95"/>
<path d="M313.86 326L316.04 323.82L318.22 326L316.04 328.19Z" fill="#fff" stroke="#111" stroke-width="0.95"/>
<path d="M332.98 395.4L335.16 393.22L337.34 395.4L335.16 397.58Z" fill="#fff" stroke="#111" stroke-width="0.95"/>
<path d="M366.44 410.35L368.62 408.17L370.8 410.35L368.62 412.54Z" fill="#fff" stroke="#111" stroke-width="0.95"/>
<path d="M433.36 387.35L435.54 385.17L437.72 387.35L435.54 389.54Z" fill="#fff" stroke="#111" stroke-width="0.95"/>
<path d="M500.28 409.48L502.46 407.3L504.64 409.48L502.46 411.66Z" fill="#fff" stroke="#111" stroke-width="0.95"/>
<rect x="484" y="302" width="28" height="43.8" fill="#444"/>
<rect x="483.3" y="301.3" width="28" height="43.8" fill="#fff" stroke="#333" stroke-width="1.1"/>
<g font-size="5.5" fill="#000" stroke="#000" stroke-width="0.12">
<text x="510" y="306.6" text-anchor="end">N</text>
<path d="M483.8 310.7H497.9" stroke="#111" stroke-width="0.9"/>
<path d="M489.16 310.7L491.4 308.46L493.64 310.7L491.4 312.94Z" fill="#fff" stroke="#111" stroke-width="0.9"/>
<text x="510" y="312.6" text-anchor="end">69</text>
<path d="M483.8 316.75H497.9" stroke="#111" stroke-width="0.9"/>
<circle cx="491.4" cy="316.75" r="2" fill="#fff" stroke="#111" stroke-width="0.9"/>
<text x="510" y="318.65" text-anchor="end">21</text>
<path d="M483.8 322.8h2m1.2 0h2.2M493.9 322.8h1.6m1.2 0h1.6" stroke="#111" stroke-width="1.1"/>
<path d="M489.6 320.8l3.6 4m0 -4l-3.6 4" stroke="#111" stroke-width="1.25" fill="none"/>
<text x="510" y="324.7" text-anchor="end">140</text>
<path d="M483.8 328.85H497.9" stroke="#111" stroke-width="0.9"/>
<circle cx="491.4" cy="328.85" r="2.4" fill="#111"/>
<text x="510" y="330.75" text-anchor="end">326</text>
<path d="M483.8 334.9H497.9" stroke="#111" stroke-width="0.9"/>
<path d="M488.67 334.9L491.4 332.17L494.13 334.9L491.4 337.63Z" fill="#111"/>
<text x="510" y="336.8" text-anchor="end">427</text>
<rect x="485.6" y="338.25" width="11.6" height="5.3" fill="#c2c2c2" stroke="none"/>
<text x="510" y="342.85" text-anchor="end">209</text>
</g></g>
</g></svg>
</body></html>
